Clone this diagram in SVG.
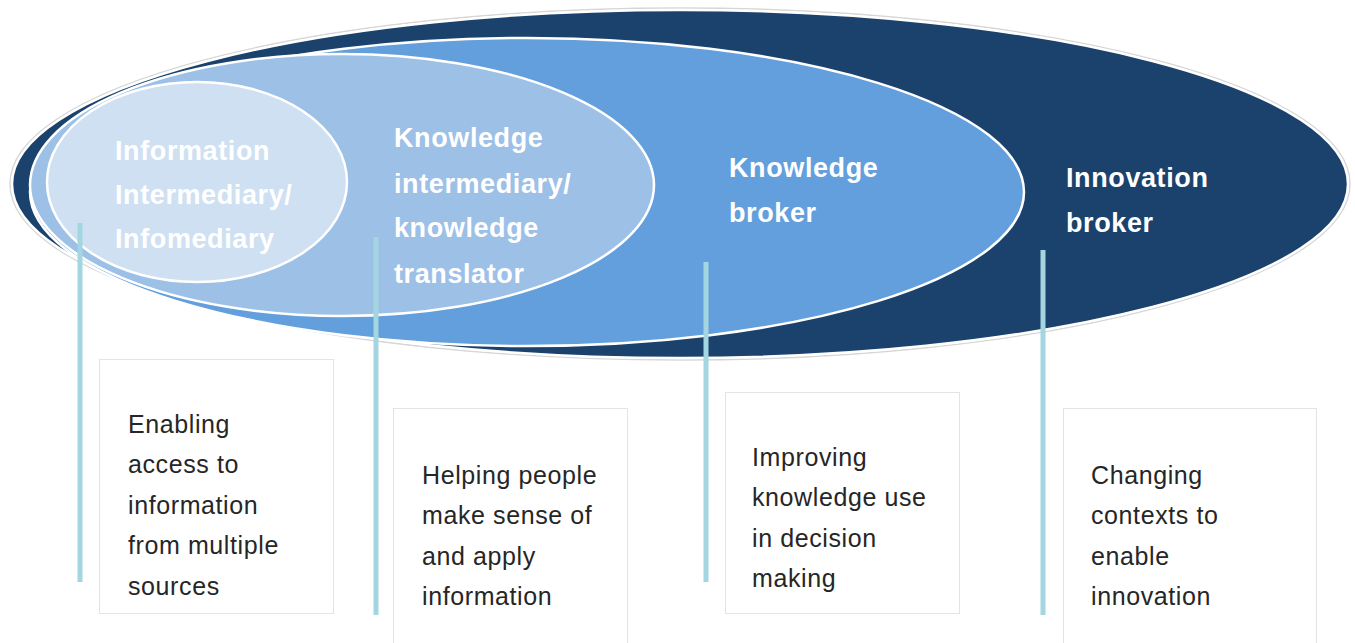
<svg xmlns="http://www.w3.org/2000/svg" width="1355" height="643" viewBox="0 0 1355 643">
  <style>
    .ring { stroke: #ffffff; stroke-width: 2.5; }
    .title { font-family: "Liberation Sans", Arial, sans-serif; font-weight: bold; font-size: 27px; fill: #ffffff; letter-spacing: 0.6px; }
    .box { fill: #ffffff; stroke: #e4e4e4; stroke-width: 1; }
    .body { font-family: "Liberation Sans", Arial, sans-serif; font-size: 25px; fill: #262626; letter-spacing: 0.6px; }
    .conn { stroke: #a3d6e0; stroke-width: 5; fill: none; }
  </style>
  <rect width="1355" height="643" fill="#ffffff"/>

  <g id="innovation-broker">
    <ellipse cx="680" cy="184" rx="670" ry="176" fill="none" stroke="#d6d6d6" stroke-width="1.5"/>
    <ellipse class="ring" cx="680" cy="184" rx="668" ry="174" fill="#1b426c"/>
    <text class="title" x="1066" y="187">Innovation</text>
    <text class="title" x="1066" y="232">broker</text>
  </g>

  <g id="knowledge-broker">
    <ellipse class="ring" cx="527" cy="192" rx="497" ry="154" fill="#629fdc"/>
    <text class="title" x="729" y="177">Knowledge</text>
    <text class="title" x="729" y="222">broker</text>
  </g>

  <g id="knowledge-intermediary">
    <ellipse class="ring" cx="342" cy="185" rx="312" ry="131" fill="#9dc0e7"/>
    <text class="title" x="394" y="147">Knowledge</text>
    <text class="title" x="394" y="193">intermediary/</text>
    <text class="title" x="394" y="237">knowledge</text>
    <text class="title" x="394" y="283">translator</text>
  </g>

  <g id="information-intermediary">
    <ellipse class="ring" cx="197" cy="182" rx="150" ry="100" fill="#cfe0f3"/>
    <text class="title" x="115" y="160">Information</text>
    <text class="title" x="115" y="204">Intermediary/</text>
    <text class="title" x="115" y="248">Infomediary</text>
  </g>

  <g id="connectors">
    <line class="conn" x1="80" y1="223" x2="80" y2="582"/>
    <line class="conn" x1="376" y1="237" x2="376" y2="615"/>
    <line class="conn" x1="706" y1="262" x2="706" y2="582"/>
    <line class="conn" x1="1043" y1="250" x2="1043" y2="615"/>
  </g>

  <g id="box-information">
    <rect class="box" x="99.5" y="359.5" width="234" height="254"/>
    <text class="body" x="128" y="433">Enabling</text>
    <text class="body" x="128" y="473">access to</text>
    <text class="body" x="128" y="514">information</text>
    <text class="body" x="128" y="554">from multiple</text>
    <text class="body" x="128" y="595">sources</text>
  </g>

  <g id="box-knowledge-intermediary">
    <rect class="box" x="393.5" y="408.5" width="234" height="240"/>
    <text class="body" x="422" y="484">Helping people</text>
    <text class="body" x="422" y="524">make sense of</text>
    <text class="body" x="422" y="565">and apply</text>
    <text class="body" x="422" y="605">information</text>
  </g>

  <g id="box-knowledge-broker">
    <rect class="box" x="725.5" y="392.5" width="234" height="221"/>
    <text class="body" x="752" y="466">Improving</text>
    <text class="body" x="752" y="506">knowledge use</text>
    <text class="body" x="752" y="547">in decision</text>
    <text class="body" x="752" y="587">making</text>
  </g>

  <g id="box-innovation-broker">
    <rect class="box" x="1063.5" y="408.5" width="253" height="240"/>
    <text class="body" x="1091" y="484">Changing</text>
    <text class="body" x="1091" y="524">contexts to</text>
    <text class="body" x="1091" y="565">enable</text>
    <text class="body" x="1091" y="605">innovation</text>
  </g>
</svg>
